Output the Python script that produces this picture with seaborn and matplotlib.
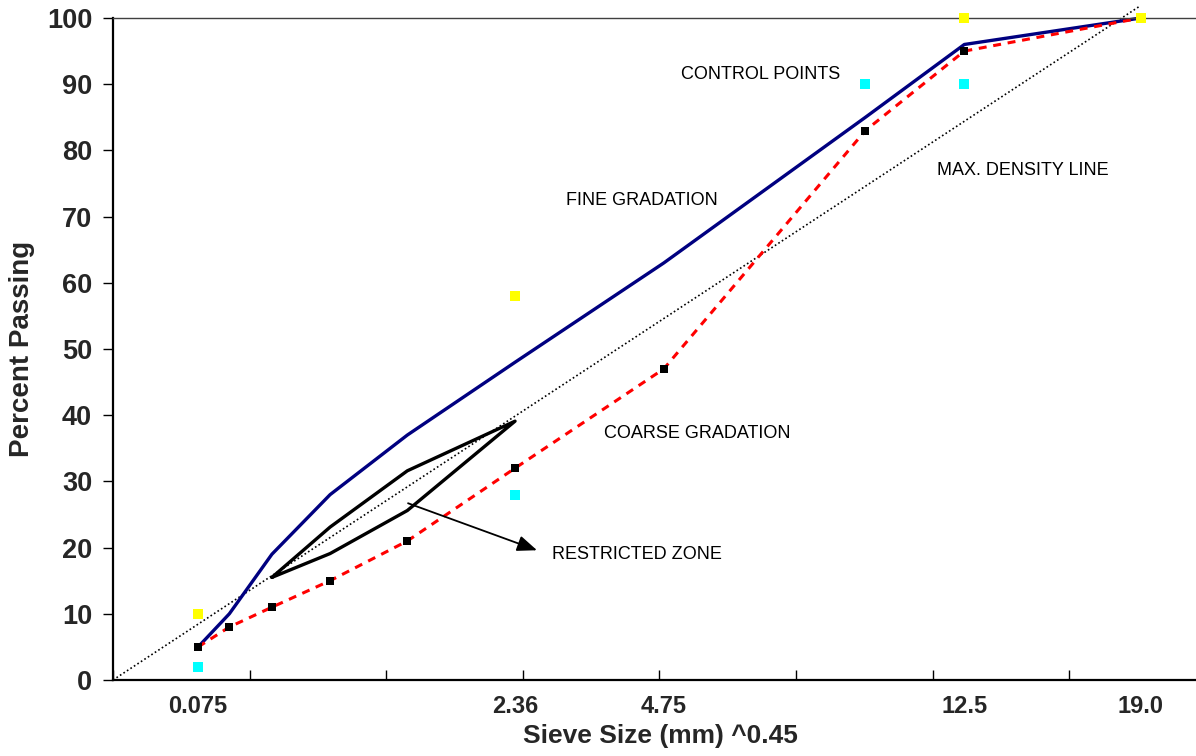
import numpy as np
import pandas as pd
import matplotlib
matplotlib.use("Agg")
import matplotlib.pyplot as plt
import seaborn as sns

# ---------------- data ----------------
sieve_sizes = [0.075, 0.15, 0.3, 0.6, 1.18, 2.36, 4.75, 9.5, 12.5, 19.0]
fine_passing = [5, 10, 19, 28, 37, 48, 63, 85, 96, 100]
coarse_passing = [5, 8, 11, 15, 21, 32, 47, 83, 95, 100]

upper_cp_sizes = [0.075, 2.36, 12.5, 19.0]
upper_cp_values = [10, 58, 100, 100]
lower_cp_sizes = [0.075, 2.36, 9.5, 12.5]
lower_cp_values = [2, 28, 90, 90]

rz_sizes = [0.3, 0.6, 1.18, 2.36, 1.18, 0.6, 0.3]
rz_values = [15.5, 23.1, 31.6, 39.1, 25.6, 19.1, 15.5]

maxden_x = [0.0, 3.755]      # already in size^0.45 units
maxden_y = [0.0, 101.7]

tick_label_sizes = [0.075, 2.36, 4.75, 12.5, 19.0]
tick_labels = ["0.075", "2.36", "4.75", "12.5", "19.0"]

EXP = 0.45

def tr(v):
    return [s ** EXP for s in v]

fine_df = pd.DataFrame({"x": tr(sieve_sizes), "y": fine_passing})
coarse_df = pd.DataFrame({"x": tr(sieve_sizes), "y": coarse_passing})
upper_df = pd.DataFrame({"x": tr(upper_cp_sizes), "y": upper_cp_values})
lower_df = pd.DataFrame({"x": tr(lower_cp_sizes), "y": lower_cp_values})
rz_df = pd.DataFrame({"x": tr(rz_sizes), "y": rz_values})
md_df = pd.DataFrame({"x": maxden_x, "y": maxden_y})

# ---------------- style ----------------
sns.set_theme(style="white")
plt.rcParams["font.family"] = ["Liberation Sans", "DejaVu Sans"]

fig = plt.figure(figsize=(11.96, 7.56), dpi=100)
ax = fig.add_axes([113 / 1196, 1 - 680 / 756, (1195 - 113) / 1196, (680 - 18) / 756])

# max density line
sns.lineplot(data=md_df, x="x", y="y", sort=False, estimator=None, ax=ax,
             color="black", lw=1.2, linestyle=(0, (1, 1.5)), clip_on=False)
# restricted zone
sns.lineplot(data=rz_df, x="x", y="y", sort=False, estimator=None, ax=ax,
             color="black", lw=2.4)
# fine gradation
sns.lineplot(data=fine_df, x="x", y="y", sort=False, estimator=None, ax=ax,
             color="#000080", lw=2.4, clip_on=False)
# coarse gradation
sns.lineplot(data=coarse_df, x="x", y="y", sort=False, estimator=None, ax=ax,
             color="#ff0000", lw=2.2, clip_on=False)
ax.lines[-1].set_dashes((2.6, 2.2))
sns.scatterplot(data=coarse_df, x="x", y="y", ax=ax, color="black",
                marker="s", s=28, linewidth=0, zorder=5, clip_on=False)
# control points
sns.scatterplot(data=upper_df, x="x", y="y", ax=ax, color="#ffff00",
                marker="s", s=60, linewidth=0, zorder=6, clip_on=False)
sns.scatterplot(data=lower_df, x="x", y="y", ax=ax, color="#00ffff",
                marker="s", s=60, linewidth=0, zorder=6, clip_on=False)

# ---------------- axes ----------------
ax.set_xlim(0, (1195 - 113) / 273.2)
ax.set_ylim(0, 100)

ax.set_xticks(np.arange(0, 4.0, 0.5))
ax.set_xticklabels([])
ax.set_xticks(tr(tick_label_sizes), minor=True)
ax.set_xticklabels(tick_labels, minor=True)
ax.tick_params(axis="x", which="major", direction="in", length=7, width=1, color="black", bottom=True)
ax.tick_params(axis="x", which="minor", length=0, pad=11, labelsize=17)
for t in ax.get_xticklabels(minor=True):
    t.set_fontweight("bold")

ax.set_yticks(np.arange(0, 101, 10))
ax.tick_params(axis="y", which="major", direction="out", length=7, width=1, color="black",
               left=True, pad=8, labelsize=19.5)
for t in ax.get_yticklabels():
    t.set_fontweight("bold")

for side in ["left", "bottom"]:
    ax.spines[side].set_color("black")
    ax.spines[side].set_linewidth(1.6)
ax.spines["top"].set_color("#404040")
ax.spines["top"].set_linewidth(1.0)
ax.spines["right"].set_visible(False)

ax.set_xlabel("Sieve Size (mm) ^0.45", fontsize=19, fontweight="bold")
ax.set_ylabel("Percent Passing", fontsize=20, fontweight="bold")
ax.xaxis.set_label_coords((660 - 113) / 1082, -(724 - 680) / 662)
ax.yaxis.set_label_coords(-(113 - 35) / 1082, 0.5)

# ---------------- annotations ----------------
txt_kw = dict(fontsize=13, color="black", va="center", ha="left")
ax.text(2.079, 91.4, "CONTROL POINTS", **txt_kw)
ax.text(1.658, 72.5, "FINE GRADATION", **txt_kw)
ax.text(3.016, 77.0, "MAX. DENSITY LINE", **txt_kw)
ax.text(1.797, 37.2, "COARSE GRADATION", **txt_kw)
ax.text(1.607, 18.9, "RESTRICTED ZONE", **txt_kw)
ax.annotate("", xy=(1.552, 19.6), xytext=(1.080, 26.7),
            arrowprops=dict(arrowstyle="-|>,head_length=1.0,head_width=0.4",
                            color="black", lw=1.3, shrinkA=0, shrinkB=0))

fig.savefig("out.png", dpi=100)
